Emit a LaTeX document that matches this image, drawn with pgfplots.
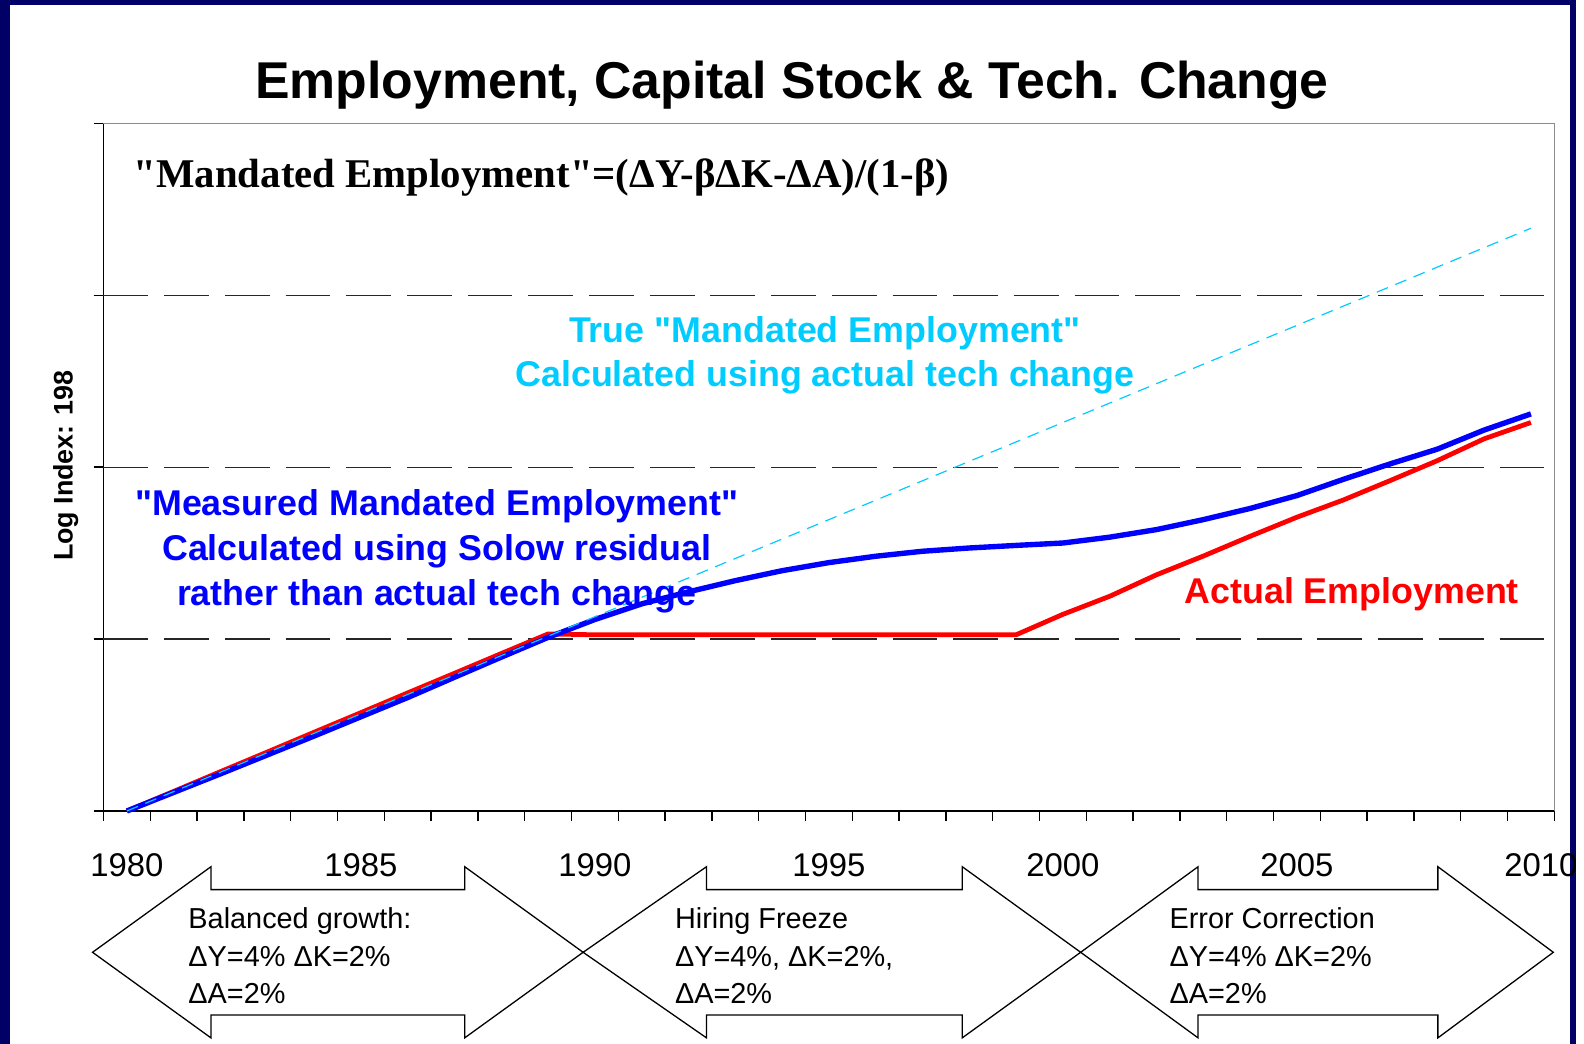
\documentclass[border=0pt]{standalone}
\usepackage{pgfplots}
\pgfplotsset{compat=1.18}
\usepackage{fontspec}
\setmainfont{Liberation Sans}[Ligatures=TeXOff]
\newfontfamily\timesfont{Liberation Serif}[Ligatures=TeXOff]
\newcommand\dq{\symbol{34}}
\definecolor{navy}{RGB}{0,0,102}
\definecolor{mblue}{RGB}{0,0,255}
\definecolor{mred}{RGB}{255,0,0}
\definecolor{mcyan}{RGB}{0,204,255}
\begin{document}
\begin{tikzpicture}
\begin{scope}[x=0.5pt,y=-0.5pt]
\useasboundingbox (0,0) rectangle (1584,1049);
\fill[navy] (0,0) rectangle (1584,1049);
\fill[white] (10,5) rectangle (1578,1049);
\end{scope}

\begin{axis}[
  at={(52pt,-407.5pt)}, anchor=south west,
  scale only axis, width=729pt, height=345.5pt,
  xmin=1979.5, xmax=2010.5, ymin=0, ymax=4,
  axis x line*=bottom, axis y line*=left,
  axis line style={black, line width=0.8pt},
  tick align=outside,
  xtick={1979.5,1980.5,...,2010.5}, xticklabels={},
  ytick={0,1,2,3,4}, yticklabels={},
  extra y ticks={1,2,3}, extra y tick labels={},
  extra y tick style={grid=major},
  major grid style={black!85, line width=0.6pt, dash pattern=on 22.5pt off 8pt},
  major tick length=5pt,
  tick style={black, line width=0.7pt},
  clip=false,
]
\draw[black!45, line width=0.8pt] (rel axis cs:0,1) -- (rel axis cs:1,1) -- (rel axis cs:1,0);

% Actual Employment
\addplot[mred, line width=2.4pt, line join=round, mark=none] coordinates {
(1980,0) (1981,0.114) (1982,0.229) (1983,0.343) (1984,0.458) (1985,0.572)
(1986,0.687) (1987,0.801) (1988,0.916) (1989,1.03) (1990,1.025) (1991,1.025)
(1992,1.025) (1993,1.025) (1994,1.025) (1995,1.025) (1996,1.025) (1997,1.025)
(1998,1.025) (1999,1.025) (2000,1.144) (2001,1.249) (2002,1.374) (2003,1.483)
(2004,1.598) (2005,1.709) (2006,1.81) (2007,1.923) (2008,2.038) (2009,2.165)
(2010,2.26)
};
% Measured Mandated Employment
\addplot[mblue, line width=2.7pt, line join=round, mark=none] coordinates {
(1980,0) (1981,0.108) (1982,0.216) (1983,0.326) (1984,0.436) (1985,0.548)
(1986,0.66) (1987,0.778) (1988,0.895) (1989,1.01) (1990,1.114) (1991,1.205)
(1992,1.275) (1993,1.34) (1994,1.398) (1995,1.445) (1996,1.482) (1997,1.511)
(1998,1.53) (1999,1.545) (2000,1.559) (2001,1.593) (2002,1.637) (2003,1.695)
(2004,1.76) (2005,1.835) (2006,1.93) (2007,2.02) (2008,2.105) (2009,2.216)
(2010,2.31)
};
% True Mandated Employment
\addplot[mcyan, line width=0.6pt, dash pattern=on 6pt off 4pt, mark=none] coordinates {
(1980,0) (1985,0.565) (1990,1.13) (1995,1.695) (2000,2.26) (2005,2.825) (2010,3.39)
};

\pgfplotsinvokeforeach{1980,1985,1990,1995,2000,2005}{
  \node[font=\fontsize{16.5}{18}\selectfont, anchor=base] at (axis cs:#1,0) [yshift=-33pt] {#1};
}
\node[font=\fontsize{16.5}{18}\selectfont, anchor=base] at (axis cs:2010,0) [yshift=-33pt, xshift=5pt] {2010};
\end{axis}

\begin{scope}[x=0.5pt,y=-0.5pt]
% title
\node[font=\bfseries\fontsize{26}{30}\selectfont, anchor=base, inner sep=0] at (796,99)
  {Employment, Capital Stock \& Tech. Change};
% formula
\node[font=\timesfont\bfseries\fontsize{20.5}{24}\selectfont, anchor=base west, inner sep=0] at (134,188)
  {\dq Mandated Employment\dq=(ΔY-βΔK-ΔA)/(1-β)};
% y label
\node[font=\bfseries\fontsize{13.5}{15}\selectfont, rotate=90, anchor=base, inner sep=0] at (73,468)
  {Log Index: 198};
% cyan text
\node[font=\bfseries\fontsize{18}{20}\selectfont, text=mcyan, anchor=base, inner sep=0] at (829,344)
  {True \dq Mandated Employment\dq};
\node[font=\bfseries\fontsize{18}{20}\selectfont, text=mcyan, anchor=base, inner sep=0] at (829,388)
  {Calculated using actual tech change};
% blue text
\node[font=\bfseries\fontsize{18}{20}\selectfont, text=mblue, anchor=base, inner sep=0] at (439,518)
  {\dq Measured Mandated Employment\dq};
\node[font=\bfseries\fontsize{18}{20}\selectfont, text=mblue, anchor=base, inner sep=0] at (439,563)
  {Calculated using Solow residual};
\node[font=\bfseries\fontsize{18}{20}\selectfont, text=mblue, anchor=base, inner sep=0] at (439,608)
  {rather than actual tech change};
% red text
\node[font=\bfseries\fontsize{18}{20}\selectfont, text=mred, anchor=base west, inner sep=0] at (1190,606)
  {Actual Employment};

% arrows
\draw[black, line width=0.65pt, fill=white] (93,957) -- (212,871) -- (212,894) -- (467,894) -- (467,871) -- (586,957) -- (467,1043) -- (467,1020) -- (212,1020) -- (212,1043) -- cycle;
\draw[black, line width=0.65pt, fill=white] (586,957) -- (710,871) -- (710,894) -- (967,894) -- (967,871) -- (1086,957) -- (967,1043) -- (967,1020) -- (710,1020) -- (710,1043) -- cycle;
\draw[black, line width=0.65pt, fill=white] (1086,957) -- (1204,871) -- (1204,894) -- (1445,894) -- (1445,871) -- (1561,957) -- (1445,1043) -- (1445,1020) -- (1204,1020) -- (1204,1043) -- cycle;

\begin{scope}[every node/.style={font=\fontsize{14.5}{16}\selectfont, anchor=base west, inner sep=0}]
\node at (189,933) {Balanced growth:};
\node at (189,971) {ΔY=4\% ΔK=2\%};
\node at (189,1008) {ΔA=2\%};
\node at (678,933) {Hiring Freeze};
\node at (678,971) {ΔY=4\%, ΔK=2\%,};
\node at (678,1008) {ΔA=2\%};
\node at (1175,933) {Error Correction};
\node at (1175,971) {ΔY=4\% ΔK=2\%};
\node at (1175,1008) {ΔA=2\%};
\end{scope}
\end{scope}
\end{tikzpicture}
\end{document}
